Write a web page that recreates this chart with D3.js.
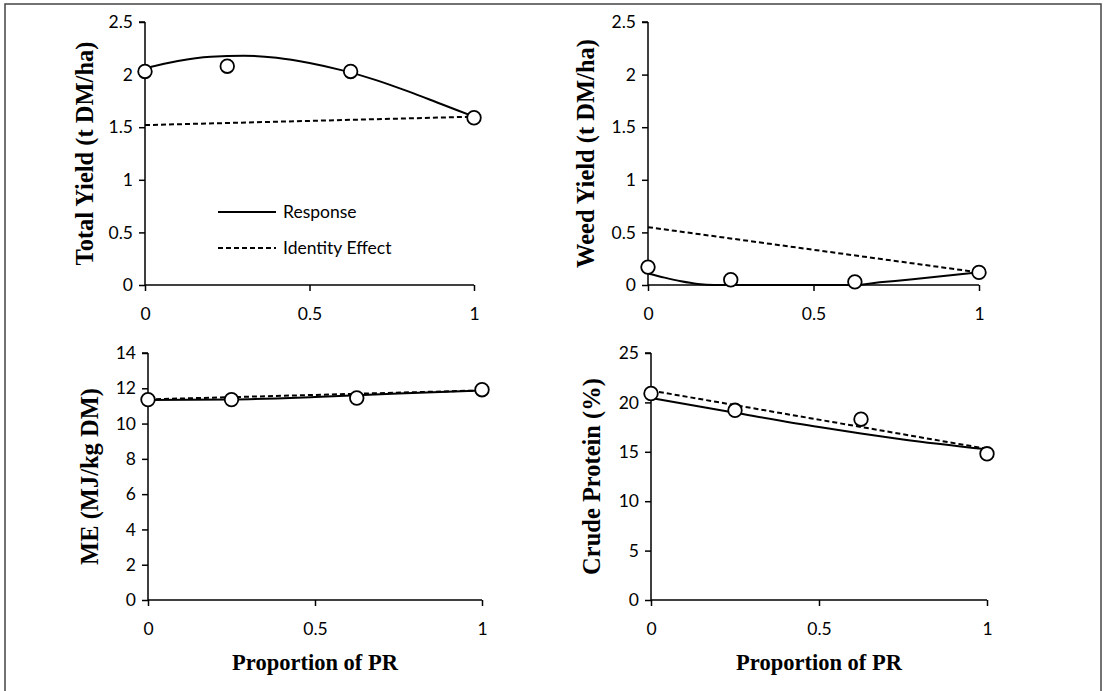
<!DOCTYPE html>
<html>
<head>
<meta charset="utf-8">
<script src="https://cdn.jsdelivr.net/npm/d3@7"></script>
<style>
  body { margin: 0; background: #fff; }
  .tick text { font-family: Lato, "Open Sans", sans-serif; font-size: 17.5px; fill: #000; }
  .ytitle { font-family: "Liberation Serif", "Times New Roman", serif; font-weight: bold; font-size: 24.5px; }
  .xtitle { font-family: "Liberation Serif", "Times New Roman", serif; font-weight: bold; font-size: 22.5px; }
  .legend text { font-family: Lato, "Open Sans", sans-serif; font-size: 17.5px; }
</style>
</head>
<body>
<svg id="chart" width="1108" height="691"></svg>
<script>
// Observed proportions of PR
const proportion = [0, 0.25, 0.625, 1];

// Total yield (t DM/ha)
const totalObserved = [2.03, 2.08, 2.03, 1.59];
const totalResponseX = [0, 0.1, 0.2, 0.3, 0.4, 0.5, 0.6, 0.7, 0.8, 0.9, 1];
const totalResponseY = [2.06, 2.13, 2.17, 2.18, 2.16, 2.11, 2.04, 1.95, 1.84, 1.72, 1.60];
const totalIdentityX = [0, 1];
const totalIdentityY = [1.52, 1.60];

// Weed yield (t DM/ha)
const weedObserved = [0.17, 0.05, 0.03, 0.12];
const weedResponseX = [0, 0.05, 0.1, 0.15, 0.2, 0.4, 0.62, 0.7, 0.8, 0.9, 1];
const weedResponseY = [0.11, 0.07, 0.035, 0.01, 0, 0, 0, 0.025, 0.055, 0.087, 0.12];
const weedIdentityX = [0, 1];
const weedIdentityY = [0.55, 0.12];

// ME (MJ/kg DM)
const meObserved = [11.36, 11.36, 11.45, 11.92];
const meResponseX = [0, 0.25, 0.5, 0.75, 1];
const meResponseY = [11.33, 11.36, 11.5, 11.7, 11.88];
const meIdentityX = [0, 1];
const meIdentityY = [11.37, 11.88];

// Crude protein (%)
const cpObserved = [20.9, 19.2, 18.3, 14.8];
const cpResponseX = [0, 0.25, 0.5, 0.625, 0.75, 1];
const cpResponseY = [20.45, 18.95, 17.5, 16.85, 16.25, 15.25];
const cpIdentityX = [0, 1];
const cpIdentityY = [21.2, 15.3];

const xTicks = [0, 0.5, 1];
const legendLabels = ['Response', 'Identity Effect'];

const svg = d3.select('#chart');

// Outer frame
svg.append('rect')
    .attr('x', 5).attr('y', 4)
    .attr('width', 1096).attr('height', 700)
    .attr('fill', 'none')
    .attr('stroke', '#444')
    .attr('stroke-width', 1.5);

const panels = [
    { title: 'Total Yield (t DM/ha)', x0: 145, x1: 474, y0: 285, y1: 22, max: 2.5, yTicks: [0, 0.5, 1, 1.5, 2, 2.5],
      obs: totalObserved, rx: totalResponseX, ry: totalResponseY, ix: totalIdentityX, iy: totalIdentityY,
      titleX: 93, xTitle: false, legend: true },
    { title: 'Weed Yield (t DM/ha)', x0: 648, x1: 979, y0: 285, y1: 22, max: 2.5, yTicks: [0, 0.5, 1, 1.5, 2, 2.5],
      obs: weedObserved, rx: weedResponseX, ry: weedResponseY, ix: weedIdentityX, iy: weedIdentityY,
      titleX: 594, xTitle: false, legend: false },
    { title: 'ME (MJ/kg DM)', x0: 148, x1: 482, y0: 600, y1: 353, max: 14, yTicks: [0, 2, 4, 6, 8, 10, 12, 14],
      obs: meObserved, rx: meResponseX, ry: meResponseY, ix: meIdentityX, iy: meIdentityY,
      titleX: 98, xTitle: true, legend: false },
    { title: 'Crude Protein (%)', x0: 651, x1: 987, y0: 600, y1: 353, max: 25, yTicks: [0, 5, 10, 15, 20, 25],
      obs: cpObserved, rx: cpResponseX, ry: cpResponseY, ix: cpIdentityX, iy: cpIdentityY,
      titleX: 600, xTitle: true, legend: false }
];

panels.forEach(p => {
    const x = d3.scaleLinear().domain([0, 1]).range([p.x0, p.x1]);
    const y = d3.scaleLinear().domain([0, p.max]).range([p.y0, p.y1]);
    const g = svg.append('g');

    // Axes
    const xAxis = g.append('g')
        .attr('transform', `translate(0,${p.y0})`)
        .call(d3.axisBottom(x).tickValues(xTicks).tickFormat(d3.format('')).tickSize(6).tickPadding(17));
    const yAxis = g.append('g')
        .attr('transform', `translate(${p.x0},0)`)
        .call(d3.axisLeft(y).tickValues(p.yTicks).tickFormat(d3.format('')).tickSize(6).tickPadding(6));
    [xAxis, yAxis].forEach(a => {
        a.select('.domain').attr('stroke', '#000').attr('stroke-width', 1.5);
        a.selectAll('.tick line').attr('stroke', '#000').attr('stroke-width', 1.5);
        a.attr('font-family', null).attr('font-size', null);
    });
    // Excel-style axis lines
    xAxis.select('.domain').attr('d', `M${p.x0},0H${p.x1}`);
    yAxis.select('.domain').attr('d', `M0,${p.y0}V${p.y1}M0,${p.y1}H-6`);

    // Identity line (dashed)
    const line = d3.line().x(d => x(d[0])).y(d => y(d[1]));
    g.append('path')
        .datum(p.ix.map((v, i) => [v, p.iy[i]]))
        .attr('d', line)
        .attr('fill', 'none')
        .attr('stroke', '#000')
        .attr('stroke-width', 2)
        .attr('stroke-dasharray', '5,3');

    // Response curve
    g.append('path')
        .datum(p.rx.map((v, i) => [v, p.ry[i]]))
        .attr('d', line.curve(d3.curveMonotoneX))
        .attr('fill', 'none')
        .attr('stroke', '#000')
        .attr('stroke-width', 2);

    // Observed points
    g.selectAll('circle.obs')
        .data(p.obs.map((v, i) => [proportion[i], v]))
        .join('circle')
        .attr('class', 'obs')
        .attr('cx', d => x(d[0]))
        .attr('cy', d => y(d[1]))
        .attr('r', 6.8)
        .attr('fill', '#fff')
        .attr('stroke', '#000')
        .attr('stroke-width', 1.8);

    // Y title
    g.append('text')
        .attr('class', 'ytitle')
        .attr('transform', `translate(${p.titleX},${(p.y0 + p.y1) / 2}) rotate(-90)`)
        .attr('text-anchor', 'middle')
        .text(p.title);

    if (p.xTitle) {
        g.append('text')
            .attr('class', 'xtitle')
            .attr('x', (p.x0 + p.x1) / 2)
            .attr('y', 670)
            .attr('text-anchor', 'middle')
            .text('Proportion of PR');
    }

    if (p.legend) {
        const lg = g.append('g').attr('class', 'legend');
        legendLabels.forEach((lab, i) => {
            const ly = 212 + i * 36;
            lg.append('line')
                .attr('x1', 218).attr('x2', 276)
                .attr('y1', ly).attr('y2', ly)
                .attr('stroke', '#000')
                .attr('stroke-width', 2)
                .attr('stroke-dasharray', i === 1 ? '5,3' : null);
            lg.append('text')
                .attr('x', 283).attr('y', ly + 6)
                .text(lab);
        });
    }
});
</script>
</body>
</html>
